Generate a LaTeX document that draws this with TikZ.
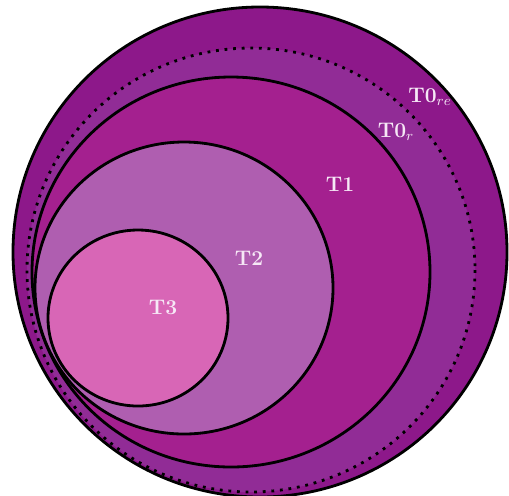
\documentclass[tikz,border=0pt]{standalone}
\usepackage{tikz}
\definecolor{RingOuter}{RGB}{141,24,138}
\definecolor{RingDotted}{RGB}{145,44,150}
\definecolor{RingOne}{RGB}{164,32,143}
\definecolor{RingTwo}{RGB}{175,94,176}
\definecolor{RingThree}{RGB}{216,102,182}
\definecolor{LabelWhite}{RGB}{246,232,246}

\begin{document}
\begin{tikzpicture}[x=0.02cm, y=-0.02cm,
    every node/.style={font=\large\bfseries, text=LabelWhite},
    ring/.style={draw=black, line width=1.6pt},
    dotring/.style={draw=black, line width=1.6pt, dash pattern=on 1.6pt off 3.3pt}]
\useasboundingbox (0,0) rectangle (509,495);
% nested regions, outermost first
\filldraw[ring, fill=RingOuter] (260,252) ellipse [x radius=247, y radius=245];
\filldraw[dotring, fill=RingDotted] (251,270) ellipse [x radius=224, y radius=222];
\filldraw[ring, fill=RingOne] (231,272) ellipse [x radius=199, y radius=195];
\filldraw[ring, fill=RingTwo] (184,288) ellipse [x radius=149, y radius=146];
\filldraw[ring, fill=RingThree] (138,318) ellipse [x radius=90, y radius=88];
% labels
\node (t0re) at (430,97) {T0$_{re}$};
\node (t0r) at (396,132) {T0$_{r}$};
\node (t1) at (340,184) {T1};
\node (t2) at (249,258) {T2};
\node (t3) at (163,307) {T3};
\end{tikzpicture}
\end{document}
